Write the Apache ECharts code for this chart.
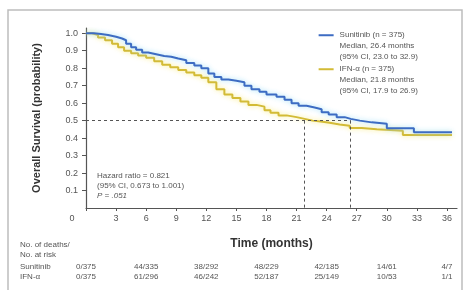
<!DOCTYPE html>
<html><head><meta charset="utf-8">
<script src="https://cdn.jsdelivr.net/npm/echarts@6/dist/echarts.min.js"></script>
<style>html,body{margin:0;padding:0;background:#fff}#c{width:465px;height:290px}</style>
</head><body><div id="c"></div>
<script>
// ---- data ----
const sunitinibT = [0,0.8,1.5,2.2,3.0,3.6,4.0,4.5,5.0,5.6,6.2,7.0,7.8,8.5,9.2,10.0,10.8,11.5,12.2,12.8,13.5,14.2,15.0,15.8,16.5,17.3,18.0,19.0,19.8,20.5,21.2,22.0,22.8,23.5,24.2,25.0,25.8,26.4,27.3,28.5,30.0,32.7,36.5];
const sunitinibS = [1.0,0.995,0.99,0.98,0.97,0.96,0.94,0.92,0.905,0.89,0.88,0.87,0.865,0.855,0.845,0.83,0.815,0.80,0.77,0.75,0.735,0.728,0.72,0.70,0.68,0.665,0.65,0.636,0.62,0.60,0.585,0.575,0.565,0.548,0.535,0.52,0.51,0.50,0.49,0.482,0.457,0.434,0.434];
const ifnT = [0,0.6,1.2,1.9,2.6,3.2,3.8,4.5,5.2,6.0,6.8,7.6,8.4,9.2,10.0,10.8,11.5,12.2,13.0,13.8,14.6,15.4,16.2,17.0,17.8,18.4,19.2,20.0,21.0,21.8,22.6,23.4,24.3,25.3,26.3,27.5,29.0,31.6,36.5];
const ifnS = [1.0,0.99,0.975,0.96,0.94,0.92,0.90,0.885,0.872,0.86,0.84,0.82,0.805,0.79,0.775,0.76,0.745,0.72,0.68,0.65,0.63,0.61,0.59,0.58,0.56,0.545,0.53,0.52,0.51,0.50,0.495,0.488,0.478,0.47,0.458,0.45,0.442,0.418,0.418];
const xTicks = [0,3,6,9,12,15,18,21,24,27,30,33,36];
const yTicks = [0.1,0.2,0.3,0.4,0.5,0.6,0.7,0.8,0.9,1.0];
const medians = [21.8, 26.4];
const riskMonths = [0,6,12,18,24,30,36];
const riskSunitinib = ['0/375','44/335','38/292','48/229','42/185','14/61','4/7'];
const riskIFN = ['0/375','61/296','46/242','52/187','25/149','10/53','1/1'];
const legendSun = ['Sunitinib (n = 375)','Median, 26.4 months','(95% CI, 23.0 to 32.9)'];
const legendIFN = ['IFN-\u03b1 (n = 375)','Median, 21.8 months','(95% CI, 17.9 to 26.9)'];
const hrText = ['Hazard ratio = 0.821','(95% CI, 0.673 to 1.001)','P = .051'];

const BLUE = '#3d6cc3', YELLOW = '#d3bb36';
const FONT = 'Liberation Sans';
const chart = echarts.init(document.getElementById('c'), null, {renderer:'canvas'});
const zip = (t,s)=>t.map((v,i)=>[v,s[i]]);

chart.setOption({
  animation:false,
  textStyle:{fontFamily:FONT},
  grid:{left:86,right:8,top:28,bottom:82},
  xAxis:{type:'value',min:0,max:37,interval:3,
    axisLine:{lineStyle:{color:'#555',width:1.2}},
    axisTick:{show:true,length:3,customValues:xTicks,lineStyle:{color:'#555'}},
    splitLine:{show:false},
    axisLabel:{customValues:xTicks,color:'#555',fontSize:9,margin:6,
      formatter:v=> v===0 ? '{z|0}' : String(v),
      rich:{z:{padding:[0,28,0,0],color:'#555',fontSize:9}}},
    name:'Time (months)',nameLocation:'middle',nameGap:30,
    nameTextStyle:{fontSize:12,fontWeight:'bold',color:'#333'}},
  yAxis:{type:'value',min:0,max:1.03,interval:0.1,
    axisLine:{show:true,lineStyle:{color:'#555',width:1.2}},
    axisTick:{show:true,length:4,customValues:yTicks,lineStyle:{color:'#555'}},
    splitLine:{show:false},
    axisLabel:{customValues:yTicks,color:'#555',fontSize:9,margin:8,formatter:v=>v.toFixed(1)},
    name:'Overall Survival (probability)',nameLocation:'middle',nameGap:44,
    nameTextStyle:{fontSize:11,fontWeight:'bold',color:'#333'}},
  series:[
    {type:'line',name:'IFN',data:zip(ifnT,ifnS),step:'end',showSymbol:false,
      lineStyle:{color:YELLOW,width:2,shadowColor:'rgba(250,235,120,0.9)',shadowBlur:5},z:3},
    {type:'line',name:'Sunitinib',data:zip(sunitinibT,sunitinibS),step:'end',showSymbol:false,
      lineStyle:{color:BLUE,width:2,shadowColor:'rgba(150,220,250,0.9)',shadowBlur:5},z:4,
      markLine:{silent:true,symbol:'none',label:{show:false},
        lineStyle:{color:'#555',type:[3,3],width:1},
        data:[
          [{coord:[0,0.5]},{coord:[medians[1],0.5]}],
          [{coord:[medians[0],0.5]},{coord:[medians[0],0]}],
          [{coord:[medians[1],0.5]},{coord:[medians[1],0]}]
        ]}}
  ]
});

function px(x,y){return chart.convertToPixel({gridIndex:0},[x,y]);}
const g = [];
// frame
g.push({type:'rect',shape:{x:8,y:10,width:454,height:290},style:{fill:'none',stroke:'#bdbdbd',lineWidth:1.5},z:0});
// legend
const lp = px(23,1.0);
const lx0 = lp[0]+2, ly0 = lp[1]+2;
[[legendSun,BLUE,0],[legendIFN,YELLOW,34]].forEach(([lines,col,off])=>{
  g.push({type:'line',shape:{x1:lx0,y1:ly0+off,x2:lx0+15,y2:ly0+off},style:{stroke:col,lineWidth:2}});
  lines.forEach((t,i)=>g.push({type:'text',x:lx0+21,y:ly0+off+i*11,style:{text:t,font:'8px '+FONT,fill:'#555',textVerticalAlign:'middle'}}));
});
// hazard ratio text
const hp = px(1.1,0.185);
hrText.forEach((t,i)=>g.push({type:'text',x:hp[0],y:hp[1]+i*10,style:{text:t,font:(i===2?'italic ':'')+'8px '+FONT,fill:'#555',textVerticalAlign:'middle'}}));
// risk table
const rowY = [245,255,267,277];
g.push({type:'text',x:20,y:rowY[0],style:{text:'No. of deaths/',font:'8px '+FONT,fill:'#555',textVerticalAlign:'middle'}});
g.push({type:'text',x:20,y:rowY[1],style:{text:'No. at risk',font:'8px '+FONT,fill:'#555',textVerticalAlign:'middle'}});
g.push({type:'text',x:20,y:rowY[2],style:{text:'Sunitinib',font:'8px '+FONT,fill:'#555',textVerticalAlign:'middle'}});
g.push({type:'text',x:20,y:rowY[3],style:{text:'IFN-\u03b1',font:'8px '+FONT,fill:'#555',textVerticalAlign:'middle'}});
riskMonths.forEach((m,i)=>{
  const x = px(m,0)[0];
  g.push({type:'text',x:x,y:rowY[2],style:{text:riskSunitinib[i],font:'8px '+FONT,fill:'#555',textAlign:'center',textVerticalAlign:'middle'}});
  g.push({type:'text',x:x,y:rowY[3],style:{text:riskIFN[i],font:'8px '+FONT,fill:'#555',textAlign:'center',textVerticalAlign:'middle'}});
});
chart.setOption({graphic:g});
</script></body></html>
